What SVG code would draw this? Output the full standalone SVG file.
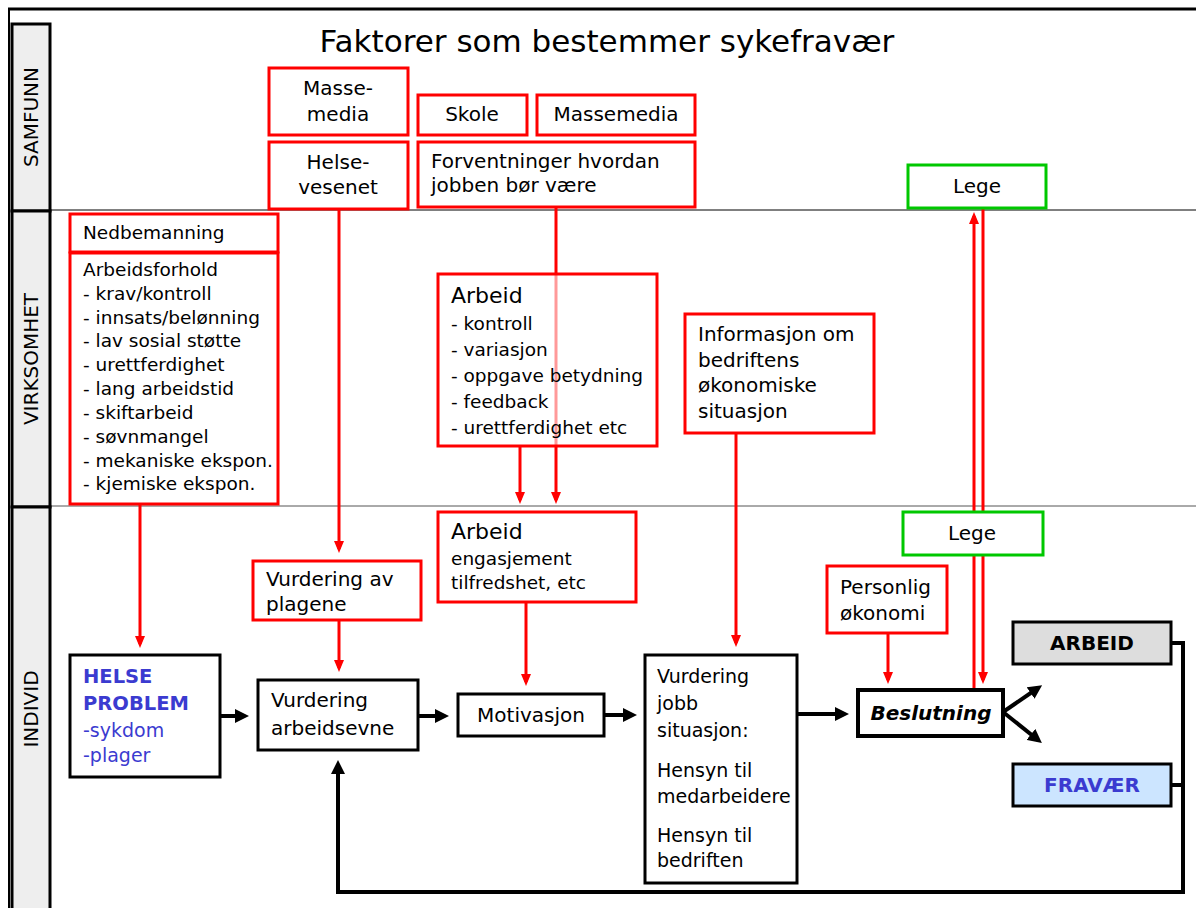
<svg xmlns="http://www.w3.org/2000/svg" width="1196" height="908" viewBox="0 0 1196 908">
<style>
text{font-family:"DejaVu Sans","Liberation Sans",sans-serif;fill:#000}
.t{font-size:20px}
.j{font-size:19px}
.s{font-size:18.5px}
.h{font-size:22px}
.band{font-size:20px}
.r{fill:#fff;stroke:#ff0000;stroke-width:3}
.g{fill:#fff;stroke:#00c800;stroke-width:3}
.k{fill:#fff;stroke:#000;stroke-width:3}
.rl{stroke:#ff0000;stroke-width:3;fill:none}
.kl{stroke:#000;stroke-width:4;fill:none}
.c{text-anchor:middle}
.blue{fill:#3b3bd0}
.b{font-size:20px;font-weight:bold}
</style>
<defs>
<marker id="ra" viewBox="0 0 12 10" refX="8" refY="5" markerWidth="12" markerHeight="10" markerUnits="userSpaceOnUse" orient="auto"><path d="M0,0 L12,5 L0,10 z" fill="#ff0000"/></marker>
<marker id="ka" viewBox="0 0 14 14" refX="9" refY="7" markerWidth="14" markerHeight="14" markerUnits="userSpaceOnUse" orient="auto"><path d="M0,0 L14,7 L0,14 z" fill="#000"/></marker>
</defs>
<rect width="1196" height="908" fill="#fff"/>
<g id="frame">
<line x1="8" y1="9" x2="1196" y2="9" stroke="#000" stroke-width="3"/>
<line x1="9" y1="8" x2="9" y2="908" stroke="#000" stroke-width="2"/>
<line x1="51" y1="210" x2="1196" y2="210" stroke="#000" stroke-width="1"/>
<line x1="51" y1="506" x2="1196" y2="506" stroke="#555" stroke-width="1"/>
<rect x="12" y="24" width="38" height="187" fill="#eeeeee" stroke="#000" stroke-width="3"/>
<rect x="12" y="211" width="38" height="296" fill="#eeeeee" stroke="#000" stroke-width="3"/>
<rect x="12" y="507" width="38" height="410" fill="#eeeeee" stroke="#000" stroke-width="3"/>
<text class="band c" transform="translate(38,117) rotate(-90)">SAMFUNN</text>
<text class="band c" transform="translate(38,359) rotate(-90)">VIRKSOMHET</text>
<text class="band c" transform="translate(38,709) rotate(-90)">INDIVID</text>
</g>
<text x="607" y="52" class="c" style="font-size:31px">Faktorer som bestemmer sykefravær</text>
<g id="connectors">
<line class="rl" x1="140" y1="504" x2="140" y2="644" marker-end="url(#ra)"/>
<line class="rl" x1="339" y1="209" x2="339" y2="549" marker-end="url(#ra)"/>
<line class="rl" x1="339" y1="620" x2="339" y2="668" marker-end="url(#ra)"/>
<line class="rl" x1="556" y1="207" x2="556" y2="500" marker-end="url(#ra)"/>
<line class="rl" x1="520" y1="446" x2="520" y2="500" marker-end="url(#ra)"/>
<line class="rl" x1="526" y1="602" x2="526" y2="682" marker-end="url(#ra)"/>
<line class="rl" x1="736" y1="433" x2="736" y2="643" marker-end="url(#ra)"/>
<line class="rl" x1="888" y1="633" x2="888" y2="680" marker-end="url(#ra)"/>
<line class="rl" x1="974" y1="690" x2="974" y2="216" marker-end="url(#ra)"/>
<line class="rl" x1="983" y1="209" x2="983" y2="680" marker-end="url(#ra)"/>
<line class="kl" x1="220" y1="716" x2="244" y2="716" marker-end="url(#ka)"/>
<line class="kl" x1="418" y1="716" x2="444" y2="716" marker-end="url(#ka)"/>
<line class="kl" x1="604" y1="715" x2="632" y2="715" marker-end="url(#ka)"/>
<line class="kl" x1="797" y1="714" x2="844" y2="714" marker-end="url(#ka)"/>
<line class="kl" x1="1003" y1="712" x2="1038" y2="688" marker-end="url(#ka)"/>
<line class="kl" x1="1003" y1="712" x2="1038" y2="740" marker-end="url(#ka)"/>
<polyline class="kl" points="1171,643 1183,643 1183,892 338,892 338,765" marker-end="url(#ka)"/>
<line class="kl" x1="1171" y1="785" x2="1183" y2="785"/>
</g>
<g id="massemedia1"><rect class="r" x="269" y="68" width="139" height="67"/><text class="t c" x="338" y="95">Masse-</text><text class="t c" x="338" y="121">media</text></g>
<g id="helsevesenet"><rect class="r" x="269" y="142" width="139" height="67"/><text class="t c" x="338" y="169">Helse-</text><text class="t c" x="338" y="194">vesenet</text></g>
<g id="skole"><rect class="r" x="418" y="95" width="109" height="40"/><text class="t c" x="472" y="121">Skole</text></g>
<g id="massemedia2"><rect class="r" x="537" y="95" width="158" height="40"/><text class="t c" x="616" y="121">Massemedia</text></g>
<g id="forventninger"><rect class="r" x="418" y="142" width="277" height="65"/><text class="t" x="431" y="168">Forventninger hvordan</text><text class="t" x="431" y="192">jobben bør være</text></g>
<g id="lege1"><rect class="g" x="908" y="165" width="138" height="43"/><text class="t c" x="977" y="193">Lege</text></g>
<g id="nedbemanning"><rect class="r" x="70" y="214" width="208" height="38"/><text class="s" x="83" y="239">Nedbemanning</text></g>
<g id="arbeidsforhold"><rect class="r" x="70" y="253" width="208" height="251"/>
<text class="s" x="83" y="276">Arbeidsforhold</text>
<text class="s" x="83" y="300">- krav/kontroll</text>
<text class="s" x="83" y="324">- innsats/belønning</text>
<text class="s" x="83" y="347">- lav sosial støtte</text>
<text class="s" x="83" y="371">- urettferdighet</text>
<text class="s" x="83" y="395">- lang arbeidstid</text>
<text class="s" x="83" y="419">- skiftarbeid</text>
<text class="s" x="83" y="443">- søvnmangel</text>
<text class="s" x="83" y="467">- mekaniske ekspon.</text>
<text class="s" x="83" y="490">- kjemiske ekspon.</text>
</g>
<g id="arbeid1"><rect class="r" x="438" y="274" width="219" height="172" fill-opacity="0.6"/>
<text class="h" x="451" y="303">Arbeid</text>
<text class="s" x="451" y="330">- kontroll</text>
<text class="s" x="451" y="356">- variasjon</text>
<text class="s" x="451" y="382">- oppgave betydning</text>
<text class="s" x="451" y="408">- feedback</text>
<text class="s" x="451" y="434">- urettferdighet etc</text>
</g>
<g id="informasjon"><rect class="r" x="685" y="314" width="189" height="119"/>
<text class="t" x="698" y="341">Informasjon om</text>
<text class="t" x="698" y="367">bedriftens</text>
<text class="t" x="698" y="392">økonomiske</text>
<text class="t" x="698" y="418">situasjon</text>
</g>
<g id="arbeid2"><rect class="r" x="438" y="512" width="198" height="90"/>
<text class="h" x="451" y="539">Arbeid</text>
<text class="s" x="451" y="565">engasjement</text>
<text class="s" x="451" y="589">tilfredshet, etc</text>
</g>
<g id="vurderingplagene"><rect class="r" x="253" y="561" width="168" height="59"/><text class="t" x="266" y="586">Vurdering av</text><text class="t" x="266" y="611">plagene</text></g>
<g id="lege2"><rect class="g" x="903" y="512" width="140" height="43"/><text class="t c" x="972" y="540">Lege</text></g>
<g id="personlig"><rect class="r" x="827" y="566" width="120" height="67"/><text class="t" x="840" y="594">Personlig</text><text class="t" x="840" y="620">økonomi</text></g>
<g id="arbeidout"><rect x="1013" y="622" width="158" height="42" fill="#dddddd" stroke="#000" stroke-width="3"/><text class="c b" x="1092" y="650">ARBEID</text></g>
<g id="fravaer"><rect x="1013" y="764" width="158" height="42" fill="#cce5ff" stroke="#000" stroke-width="3"/><text class="c blue b" x="1092" y="792">FRAVÆR</text></g>
<g id="helseproblem"><rect class="k" x="70" y="655" width="150" height="122"/>
<text class="blue" x="83" y="683" style="font-size:19.5px;font-weight:bold">HELSE</text>
<text class="blue" x="83" y="710" style="font-size:19.5px;font-weight:bold">PROBLEM</text>
<text class="blue j" x="83" y="737">-sykdom</text>
<text class="blue j" x="83" y="762">-plager</text>
</g>
<g id="vurderingarbeidsevne"><rect class="k" x="258" y="680" width="160" height="70"/><text class="t" x="271" y="707">Vurdering</text><text class="t" x="271" y="735">arbeidsevne</text></g>
<g id="motivasjon"><rect class="k" x="458" y="694" width="146" height="42"/><text class="t c" x="531" y="722">Motivasjon</text></g>
<g id="vurderingjobb"><rect class="k" x="645" y="655" width="152" height="228"/>
<text class="j" x="657" y="683">Vurdering</text>
<text class="j" x="657" y="710">jobb</text>
<text class="j" x="657" y="737">situasjon:</text>
<text class="j" x="657" y="777">Hensyn til</text>
<text class="j" x="657" y="803">medarbeidere</text>
<text class="j" x="657" y="842">Hensyn til</text>
<text class="j" x="657" y="867">bedriften</text>
</g>
<g id="beslutning"><rect x="858" y="690" width="145" height="46" fill="#fff" stroke="#000" stroke-width="4"/><text class="c" x="931" y="720" style="font-size:20px;font-weight:bold;font-style:italic">Beslutning</text></g>
</svg>
